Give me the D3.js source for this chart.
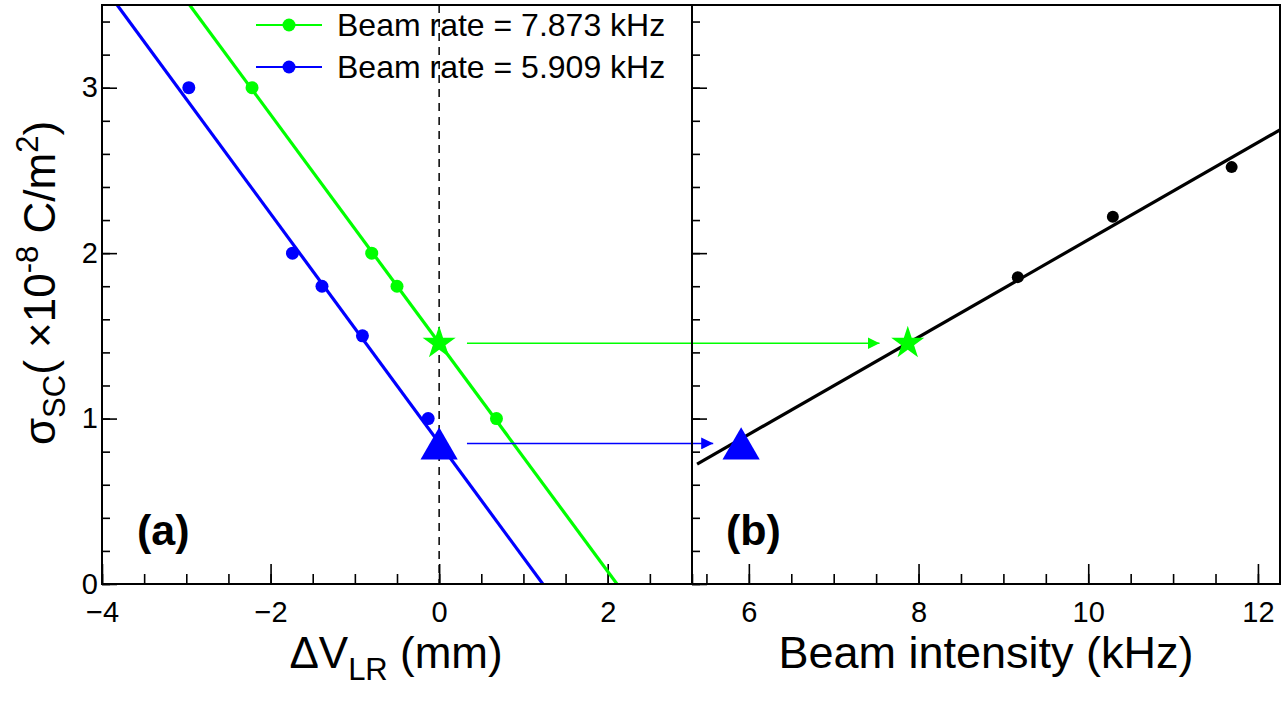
<!DOCTYPE html>
<html>
<head>
<meta charset="utf-8">
<script src="https://cdn.jsdelivr.net/npm/d3@7"></script>
<style>
  body { margin: 0; background: #fff; }
  svg { font-family: "Liberation Sans", Arial, Helvetica, sans-serif; }
</style>
</head>
<body>
<script>
// panel (a): sigma vs delta V for two beam rates
const greenX = [-2.22, -0.80, -0.50, 0.68];
const greenY = [3.0, 2.0, 1.8, 1.0];
const blueX = [-2.97, -1.74, -1.39, -0.91, -0.13];
const blueY = [3.0, 2.0, 1.8, 1.5, 1.0];
// fitted straight lines, given by their end points
const greenFit = [[-2.96, 3.5], [2.11, 0]];
const blueFit = [[-3.82, 3.5], [1.23, 0]];

// panel (b): sigma vs beam intensity
const rateX = [9.17, 10.29, 11.69];
const rateY = [1.855, 2.22, 2.52];
const rateFit = [[5.39, 0.725], [12.3, 2.757]];

// extrapolated values at dV = 0
const beamRates = [7.873, 5.909];
const sigmaAtZero = [1.456, 0.85];
const arrowStart = 0.33;          // in dV units
const arrowEnd = [7.54, 5.58];    // in kHz

const legendLabels = ["Beam rate = 7.873 kHz", "Beam rate = 5.909 kHz"];
const colors = ["#00ff00", "#0000ff"];

const xTicksA = [-4, -2, 0, 2];
const xTicksB = [6, 8, 10, 12];
const yTicks = [0, 1, 2, 3];

const W = 1288, H = 704;
const frameTop = 5, frameBottom = 584, frameLeft = 102, frameMid = 692, frameRight = 1280;

const svg = d3.select('body').append('svg')
    .attr('width', W).attr('height', H);

const xA = d3.scaleLinear().domain([-4, 3]).range([frameLeft, frameMid]);
const xB = d3.scaleLinear().domain([5.33, 12.26]).range([frameMid, frameRight]);
const y = d3.scaleLinear().domain([0, 3.5]).range([frameBottom, frameTop]);

const defs = svg.append('defs');
defs.append('clipPath').attr('id', 'clipA').append('rect')
    .attr('x', frameLeft).attr('y', frameTop)
    .attr('width', frameMid - frameLeft).attr('height', frameBottom - frameTop);
defs.append('clipPath').attr('id', 'clipB').append('rect')
    .attr('x', frameMid).attr('y', frameTop)
    .attr('width', frameRight - frameMid).attr('height', frameBottom - frameTop);
colors.forEach((c, i) => {
    defs.append('marker').attr('id', 'arrow' + i)
        .attr('markerUnits', 'userSpaceOnUse')
        .attr('viewBox', '0 0 12 12').attr('refX', 12).attr('refY', 6)
        .attr('markerWidth', 12).attr('markerHeight', 12).attr('orient', 'auto')
        .append('path').attr('d', 'M0,0L12,6L0,12Z').attr('fill', c);
});

// axes: major + minor ticks drawn inward
function xAxis(scale, ticks, minorStep) {
    const [d0, d1] = scale.domain();
    const minor = d3.range(Math.ceil(d0 / minorStep) * minorStep, d1 + 1e-9, minorStep);
    svg.append('g').attr('transform', `translate(0,${frameBottom})`)
        .call(d3.axisBottom(scale).tickValues(minor).tickSize(-10).tickFormat(''))
        .call(g => g.select('.domain').remove());
    svg.append('g').attr('transform', `translate(0,${frameBottom})`)
        .call(d3.axisBottom(scale).tickValues(ticks).tickSize(-20).tickPadding(17)
            .tickFormat(d => d < 0 ? '\u2212' + Math.abs(d) : d))
        .call(g => g.select('.domain').remove())
        .call(g => g.selectAll('text').attr('font-size', 29).attr('font-family', null).attr('fill', '#000'));
}
function yAxis(xpos, labels) {
    const minor = d3.range(0, 3.5 + 1e-9, 0.2);
    svg.append('g').attr('transform', `translate(${xpos},0)`)
        .call(d3.axisLeft(y).tickValues(minor).tickSize(-8).tickFormat(''))
        .call(g => g.select('.domain').remove());
    svg.append('g').attr('transform', `translate(${xpos},0)`)
        .call(d3.axisLeft(y).tickValues(yTicks).tickSize(-15).tickPadding(4)
            .tickFormat(labels ? d3.format('d') : ''))
        .call(g => g.select('.domain').remove())
        .call(g => g.selectAll('text').attr('font-size', 29).attr('font-family', null).attr('fill', '#000'));
}

xAxis(xA, xTicksA, 0.5);
xAxis(xB, xTicksB, 0.5);
yAxis(frameLeft, true);
yAxis(frameMid, false);
svg.selectAll('.tick line').attr('stroke-width', 1.6);

// panel (a)
const gA = svg.append('g').attr('clip-path', 'url(#clipA)');
const lineA = d3.line().x(d => xA(d[0])).y(d => y(d[1]));
gA.append('line')
    .attr('x1', xA(0)).attr('x2', xA(0)).attr('y1', y(3.5)).attr('y2', y(0))
    .attr('stroke', '#000').attr('stroke-width', 1.5).attr('stroke-dasharray', '8,6');
[greenFit, blueFit].forEach((f, i) => {
    gA.append('path').attr('d', lineA(f)).attr('fill', 'none')
        .attr('stroke', colors[i]).attr('stroke-width', 3.2);
});
[[greenX, greenY], [blueX, blueY]].forEach(([xs, ys], i) => {
    gA.selectAll(null).data(xs).join('circle')
        .attr('cx', d => xA(d)).attr('cy', (d, j) => y(ys[j])).attr('r', 6.5)
        .attr('fill', colors[i]);
});

// panel (b)
const gB = svg.append('g').attr('clip-path', 'url(#clipB)');
const lineB = d3.line().x(d => xB(d[0])).y(d => y(d[1]));
gB.append('path').attr('d', lineB(rateFit)).attr('fill', 'none')
    .attr('stroke', '#000').attr('stroke-width', 3.2);
gB.selectAll(null).data(rateX).join('circle')
    .attr('cx', d => xB(d)).attr('cy', (d, j) => y(rateY[j])).attr('r', 6)
    .attr('fill', '#000');

// arrows from (a) to (b)
sigmaAtZero.forEach((s, i) => {
    svg.append('line')
        .attr('x1', xA(arrowStart)).attr('x2', xB(arrowEnd[i]))
        .attr('y1', y(s)).attr('y2', y(s))
        .attr('stroke', colors[i]).attr('stroke-width', 1.5)
        .attr('marker-end', `url(#arrow${i})`);
});

// star and triangle markers
const star = d3.symbol().type(d3.symbolStar).size(340)();
const triSize = 600;
const tri = d3.symbol().type(d3.symbolTriangle).size(triSize)();
const triShift = Math.sqrt(triSize / (Math.sqrt(3) * 3)) / 2;
[xA(0), xB(beamRates[0])].forEach(px => {
    svg.append('path').attr('d', star)
        .attr('transform', `translate(${px},${y(sigmaAtZero[0])})`)
        .attr('fill', colors[0]);
});
[xA(0), xB(beamRates[1])].forEach(px => {
    svg.append('path').attr('d', tri)
        .attr('transform', `translate(${px},${y(sigmaAtZero[1]) + triShift})`)
        .attr('fill', colors[1]);
});

// frames
svg.append('rect').attr('x', frameLeft).attr('y', frameTop)
    .attr('width', frameMid - frameLeft).attr('height', frameBottom - frameTop)
    .attr('fill', 'none').attr('stroke', '#000').attr('stroke-width', 2);
svg.append('rect').attr('x', frameMid).attr('y', frameTop)
    .attr('width', frameRight - frameMid).attr('height', frameBottom - frameTop)
    .attr('fill', 'none').attr('stroke', '#000').attr('stroke-width', 2);

// legend
legendLabels.forEach((t, i) => {
    const ly = 25 + i * 42;
    svg.append('line').attr('x1', 256).attr('x2', 322).attr('y1', ly).attr('y2', ly)
        .attr('stroke', colors[i]).attr('stroke-width', 2);
    svg.append('circle').attr('cx', 289).attr('cy', ly).attr('r', 6.5).attr('fill', colors[i]);
    svg.append('text').attr('x', 337).attr('y', ly + 11).attr('font-size', 32).text(t);
});

// panel labels
svg.append('text').attr('x', 137).attr('y', 545).attr('font-size', 43).attr('font-weight', 'bold').text('(a)');
svg.append('text').attr('x', 726).attr('y', 545).attr('font-size', 43).attr('font-weight', 'bold').text('(b)');

// axis titles
const tA = svg.append('text').attr('x', 396).attr('y', 668).attr('text-anchor', 'middle').attr('font-size', 44);
tA.append('tspan').text('\u0394V');
tA.append('tspan').attr('dy', 12).attr('font-size', 31).text('LR');
tA.append('tspan').attr('dy', -12).text(' (mm)');

svg.append('text').attr('x', 986).attr('y', 668).attr('text-anchor', 'middle').attr('font-size', 45)
    .text('Beam intensity (kHz)');

const tY = svg.append('text').attr('transform', 'translate(55,283) rotate(-90)')
    .attr('text-anchor', 'middle').attr('font-size', 44);
tY.append('tspan').text('\u03c3');
tY.append('tspan').attr('dy', 10).attr('font-size', 31).text('SC');
tY.append('tspan').attr('dy', -10).text('( \u00d710');
tY.append('tspan').attr('dy', -17).attr('font-size', 31).text('-8');
tY.append('tspan').attr('dy', 17).text(' C/m');
tY.append('tspan').attr('dy', -17).attr('font-size', 31).text('2');
tY.append('tspan').attr('dy', 17).text(')');
</script>
</body>
</html>
